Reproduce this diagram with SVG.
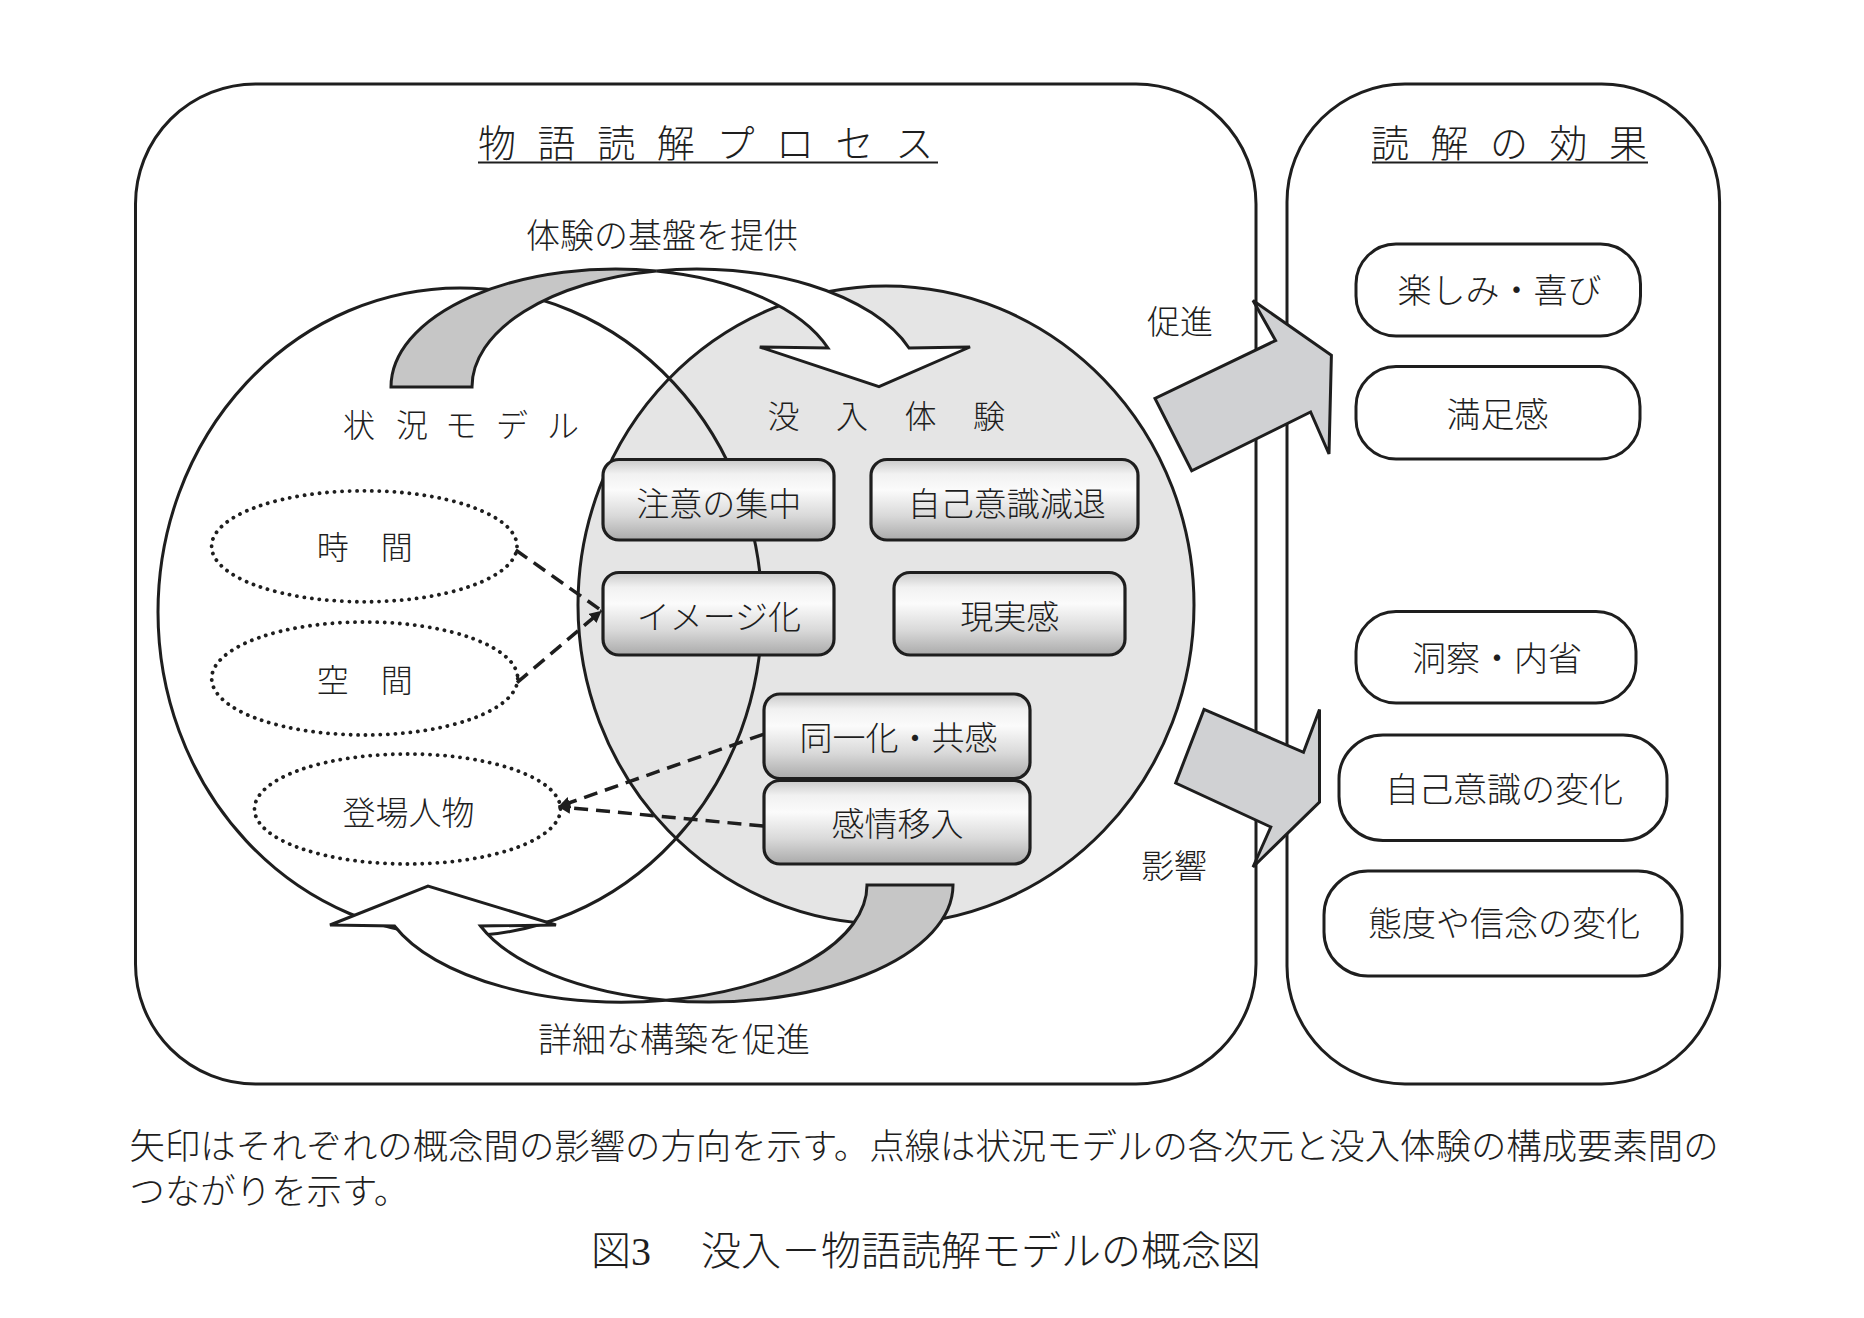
<svg xmlns="http://www.w3.org/2000/svg" width="1864" height="1318" viewBox="0 0 1864 1318">
<defs>
<style>
.frame{fill:#fff;stroke:#1e1e1e;stroke-width:3}
.ln{fill:none;stroke:#1e1e1e;stroke-width:3}
.box{fill:url(#boxg);stroke:#1e1e1e;stroke-width:3.2}
.rbox{fill:#fff;stroke:#1e1e1e;stroke-width:3}
.dot{fill:none;stroke:#1e1e1e;stroke-width:3.8;stroke-dasharray:0.1 7.4;stroke-linecap:round}
.dash{fill:none;stroke:#1e1e1e;stroke-width:3.5;stroke-dasharray:14 8}
.garrow{fill:#c6c6c6;stroke:#1e1e1e;stroke-width:3;stroke-linejoin:miter}
.warrow{fill:#fff;stroke:#1e1e1e;stroke-width:3;stroke-linejoin:miter}
.barrow{fill:#d0d1d3;stroke:#1e1e1e;stroke-width:3;stroke-linejoin:miter}
text{font-family:'Liberation Serif','Noto Sans CJK JP',serif;font-weight:300;fill:#1e1e1e}
.c{text-anchor:middle}
.uline{stroke:#1e1e1e;stroke-width:2}
</style>
<linearGradient id="boxg" x1="0" y1="0" x2="0" y2="1">
<stop offset="0" stop-color="#c9c9c9"/>
<stop offset="0.18" stop-color="#f1f1f1"/>
<stop offset="0.38" stop-color="#fbfbfb"/>
<stop offset="0.7" stop-color="#d9d9d9"/>
<stop offset="1" stop-color="#aaaaaa"/>
</linearGradient>
<marker id="ah" markerUnits="userSpaceOnUse" markerWidth="16" markerHeight="14" refX="12" refY="6" orient="auto">
<path d="M0,0 L12,6 L0,12 Z" fill="#1e1e1e"/>
</marker>
</defs>
<rect width="1864" height="1318" fill="#fff"/>

<g id="process-frame">
<rect class="frame" x="135.5" y="84" width="1120.5" height="1000" rx="120" ry="120"/>
<text font-size="38" x="478 537.6 597.2 656.8 716.4 776 835.6 895.2" y="157">物語読解プロセス</text>
<line class="uline" x1="478" y1="162.5" x2="938" y2="162.5"/>
</g>

<g id="effects-frame">
<rect class="frame" x="1287" y="84" width="432.6" height="1000" rx="118" ry="118"/>
<text font-size="38" x="1371 1430.5 1490 1549.5 1609" y="157">読解の効果</text>
<line class="uline" x1="1372" y1="162.5" x2="1648" y2="162.5"/>
</g>

<g id="circles">
<ellipse cx="460" cy="612" rx="302" ry="324" fill="#fff"/>
<ellipse cx="886" cy="605" rx="308" ry="319" fill="#e5e5e5"/>
<ellipse id="situation-model" class="ln" cx="460" cy="612" rx="302" ry="324"/>
<ellipse id="immersion" class="ln" cx="886" cy="605" rx="308" ry="319"/>
<text font-size="32" x="343 396 445 496 547" y="437">状況モデル</text>
<text font-size="32" x="767.5 836 904.5 973" y="427.5">没入体験</text>
</g>

<g id="arrow-top">
<path class="garrow" d="M391,387 A224.8,118 0 0 1 656.3,270.9 A224.8,118 0 0 0 472,387 Z"/>
<path class="warrow" d="M656.3,270.9 A224.8,118 0 0 1 909,348 L970,347 L879,386.7 L759.8,347 L828,348 A224.8,118 0 0 0 656.3,270.9 Z"/>
<text font-size="34" x="526" y="247.5">体験の基盤を提供</text>
</g>

<g id="arrow-bottom">
<path class="garrow" d="M953,885 A244,117 0 0 1 666,1000.2 A244,117 0 0 0 867,885 Z"/>
<path class="warrow" d="M666,1000.2 A244,117 0 0 1 394.5,926 L330,925 L428,886 L556,925 L480.5,926 A244,117 0 0 0 666,1000.2 Z"/>
<text font-size="34" x="538" y="1052.4">詳細な構築を促進</text>
</g>

<g id="time">
<ellipse class="dot" cx="364.3" cy="546.3" rx="152.7" ry="55.5"/>
<text class="c" font-size="32" x="364.7" y="559">時　間</text>
</g>
<g id="space">
<ellipse class="dot" cx="364.7" cy="678.5" rx="153" ry="56.5"/>
<text class="c" font-size="32" x="364.7" y="692">空　間</text>
</g>
<g id="characters">
<ellipse class="dot" cx="407.5" cy="809" rx="153" ry="55"/>
<text class="c" font-size="33" x="408.5" y="824.5">登場人物</text>
</g>

<g id="attention">
<rect class="box" x="603" y="459.5" width="231" height="80.5" rx="16"/>
<text class="c" font-size="33" x="718.8" y="515.5">注意の集中</text>
</g>
<g id="self-awareness-loss">
<rect class="box" x="871" y="459.5" width="267" height="80.5" rx="16"/>
<text class="c" font-size="33" x="1006.7" y="515.5">自己意識減退</text>
</g>
<g id="imagery">
<rect class="box" x="603" y="572.5" width="231" height="82.5" rx="16"/>
<text class="c" font-size="33" x="718.8" y="628.5">イメージ化</text>
</g>
<g id="realism">
<rect class="box" x="894" y="572.5" width="231" height="82.5" rx="16"/>
<text class="c" font-size="33" x="1009.8" y="628.5">現実感</text>
</g>
<g id="identification">
<rect class="box" x="764" y="694" width="266" height="84.5" rx="16"/>
<text class="c" font-size="33" x="898.6" y="750.3">同一化・共感</text>
</g>
<g id="empathy">
<rect class="box" x="764" y="780.5" width="266" height="83.5" rx="16"/>
<text class="c" font-size="33" x="897.6" y="836">感情移入</text>
</g>

<g id="connectors">
<line class="dash" x1="515.7" y1="550" x2="601.7" y2="610.7"/>
<line class="dash" x1="517" y1="682.7" x2="601.7" y2="610.7" marker-end="url(#ah)"/>
<line class="dash" x1="763.3" y1="734.3" x2="558.3" y2="806.7" marker-end="url(#ah)"/>
<line class="dash" x1="763.3" y1="826" x2="558.3" y2="806.7" marker-end="url(#ah)"/>
<path class="barrow" d="M1253,300.5 L1331.4,355.2 L1329,454 L1310.6,412 L1191.7,470.8 L1155,398.5 L1275.6,340.5 Z"/>
<text font-size="33" x="1147" y="334">促進</text>
<path class="barrow" d="M1204,709.4 L1303.5,752.3 L1319.5,709.4 L1319.5,802 L1253,867 L1270.8,827 L1175.7,783 Z"/>
<text font-size="33" x="1141" y="877.5">影響</text>
</g>

<g id="enjoyment">
<rect class="rbox" x="1356" y="244" width="284.5" height="92" rx="40"/>
<text class="c" font-size="34" x="1499.6" y="303">楽しみ・喜び</text>
</g>
<g id="satisfaction">
<rect class="rbox" x="1356" y="366.5" width="284" height="92.5" rx="40"/>
<text class="c" font-size="34" x="1497.5" y="427">満足感</text>
</g>
<g id="insight">
<rect class="rbox" x="1356" y="611.5" width="280" height="91.5" rx="40"/>
<text class="c" font-size="34" x="1497" y="670.5">洞察・内省</text>
</g>
<g id="self-change">
<rect class="rbox" x="1339" y="735" width="328" height="105.5" rx="44"/>
<text class="c" font-size="34" x="1504" y="802.4">自己意識の変化</text>
</g>
<g id="belief-change">
<rect class="rbox" x="1324" y="871" width="358" height="105" rx="44"/>
<text class="c" font-size="34" x="1504" y="935.7">態度や信念の変化</text>
</g>

<g id="caption">
<text font-size="35.4" x="129.6" y="1159">矢印はそれぞれの概念間の影響の方向を示す。点線は状況モデルの各次元と没入体験の構成要素間の</text>
<text font-size="35.4" x="129.6" y="1204">つながりを示す。</text>
<text font-size="40" y="1265"><tspan x="591">図3　</tspan><tspan x="701">没入－物語読解モデルの概念図</tspan></text>
</g>
</svg>
